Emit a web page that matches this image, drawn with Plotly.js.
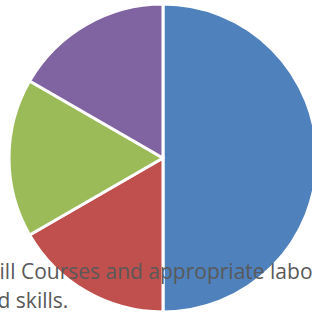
<!DOCTYPE html>
<html>
<head>
<meta charset="utf-8">
<script src="https://cdn.plot.ly/plotly-3.0.1.min.js"></script>
<style>
html, body { margin: 0; padding: 0; overflow: hidden; background: #fff; }
#chart { width: 330px; height: 315px; }
</style>
</head>
<body>
<div id="chart"></div>
<script>
const categories = ["Series 1", "Series 2", "Series 3", "Series 4"];
const values = [3, 1, 1, 1];
const colors = ["#4F81BD", "#C0504D", "#9BBB59", "#8064A2"];
const textLines = ["Skill Courses and appropriate labor", "and skills."];

const W = 330, H = 315;
const data = [{
  type: "pie",
  labels: categories,
  values: values,
  sort: false,
  direction: "clockwise",
  rotation: 0,
  textinfo: "none",
  hoverinfo: "label+percent",
  marker: { colors: colors, line: { color: "#ffffff", width: 3 } },
  domain: { x: [9 / W, 317 / W], y: [3 / H, 311 / H] },
  showlegend: false
}];

const layout = {
  width: W,
  height: H,
  margin: { l: 0, r: 0, t: 0, b: 0, pad: 0 },
  paper_bgcolor: "#ffffff",
  showlegend: false,
  annotations: [
    {
      text: textLines[0], xref: "paper", yref: "paper",
      x: -25 / W, y: (H - 287) / H, xanchor: "left", yanchor: "bottom",
      showarrow: false, font: { family: "Open Sans", size: 21, color: "#595959" }
    },
    {
      text: textLines[1], xref: "paper", yref: "paper",
      x: -29 / W, y: (H - 316) / H, xanchor: "left", yanchor: "bottom",
      showarrow: false, font: { family: "Open Sans", size: 21, color: "#595959" }
    }
  ]
};

Plotly.newPlot("chart", data, layout, { displayModeBar: false, staticPlot: true });
</script>
</body>
</html>
